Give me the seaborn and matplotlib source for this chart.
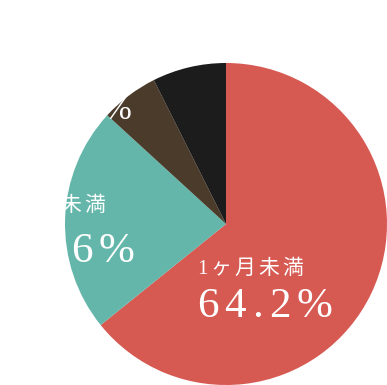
import matplotlib
matplotlib.use("Agg")
import matplotlib.pyplot as plt
import seaborn as sns

categories = ["1ヶ月未満", "3ヶ月未満", "6ヶ月未満", "その他"]
values = [64.2, 22.6, 5.8, 7.4]
pct_labels = ["64.2%", "22.6%", "5.8%", ""]
colors = ["#D65952", "#64B6AA", "#4A3B2B", "#1C1C1C"]

sns.set_theme(style="white")
plt.rcParams['font.family'] = ['Liberation Serif', 'Noto Sans CJK JP', 'DejaVu Sans']

W, H = 387, 385
fig = plt.figure(figsize=(W / 100, H / 100), dpi=100)
cx, cy, r = 226, 224, 161
ax = fig.add_axes([(cx - r) / W, 1 - (cy + r) / H, 2 * r / W, 2 * r / H])
ax.pie(values, colors=sns.color_palette(colors), startangle=90, counterclock=False,
       radius=1, wedgeprops=dict(linewidth=0))
ax.set_xlim(-1, 1)
ax.set_ylim(-1, 1)
ax.set_aspect('equal')
ax.axis('off')

fam = ['Liberation Serif', 'Noto Sans CJK JP', 'DejaVu Sans']
renderer = fig.canvas.get_renderer()


def tracked_text(x_px, base_px, s, size, gap_px):
    """Draw string s with letter spacing (extra gap between glyphs, in px)."""
    x = x_px
    for ch in s:
        t = fig.text(x / W, 1 - base_px / H, ch, color="white", fontsize=size,
                     family=fam, ha="left", va="baseline")
        w = t.get_window_extent(renderer=renderer).width
        x += w + gap_px


# layout: (left x px, name baseline px, pct baseline px, name size, pct size, name gap, pct gap)
layout = [
    (197, 274, 317, 15, 31, 3, 6),
    (-1, 211, 262, 15, 31, 3, 6),
    (56, 85, 119, 10, 24, 2, 2),
]
for i, (lx, nb, pb, ns, ps, ng, pg) in enumerate(layout):
    tracked_text(lx, nb, categories[i], ns, ng)
    tracked_text(lx, pb, pct_labels[i], ps, pg)

fig.savefig("out.png", dpi=100, facecolor="white")
